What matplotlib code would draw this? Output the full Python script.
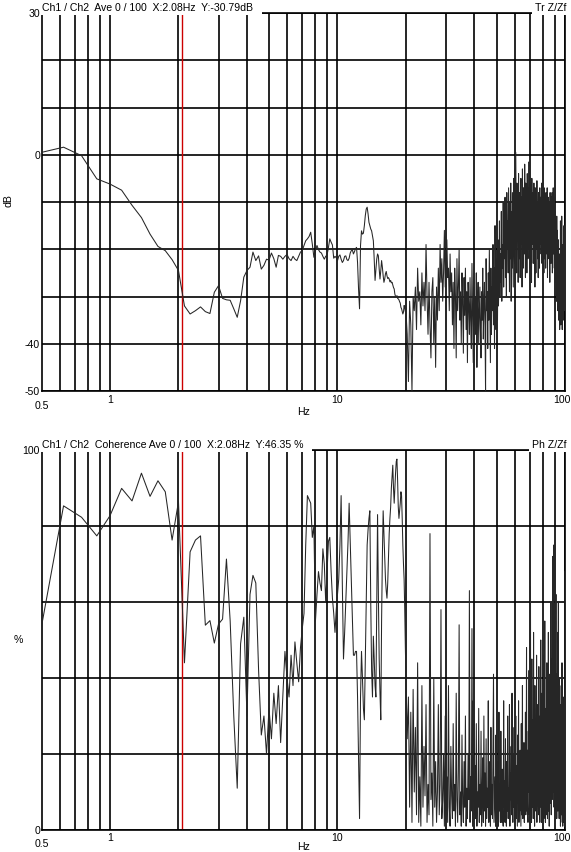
import numpy as np
import matplotlib.pyplot as plt
from matplotlib import transforms
from matplotlib.ticker import FixedLocator, NullFormatter

plt.rcParams['font.family'] = ['Liberation Sans', 'DejaVu Sans']

# Tr Z/Zf magnitude [dB], 0.5 - 20 Hz, step 0.125 Hz
mag_lo = [0.5, 1.6, -0.2, -5.1, -6.2, -7.5, -10.7, -13.3,
          -16.8, -19.4, -20.3, -22.2, -24.5, -32.0, -33.7, -33.0,
          -32.2, -33.2, -33.6, -29.1, -27.7, -30.4, -30.7, -30.8,
          -32.6, -34.4, -30.9, -25.9, -24.5, -23.8, -20.6, -22.4,
          -21.4, -24.2, -23.4, -22.1, -22.3, -20.8, -22.0, -23.8,
          -21.3, -21.5, -22.1, -21.5, -21.1, -22.0, -22.4, -21.5,
          -22.1, -22.4, -21.5, -20.6, -20.3, -19.2, -18.2, -17.8,
          -17.3, -16.4, -18.9, -21.7, -20.3, -19.2, -20.1, -20.6,
          -20.8, -21.5, -22.1, -21.5, -21.2, -19.6, -17.8, -18.5,
          -19.1, -21.9, -21.5, -21.8, -22.4, -21.5, -21.2, -22.1,
          -22.8, -22.4, -21.5, -21.4, -22.2, -22.4, -21.9, -20.8,
          -20.3, -20.1, -21.0, -20.5, -19.9, -19.6, -22.8, -28.4,
          -32.6, -19.2, -16.1, -16.8, -16.6, -15.0, -12.9, -11.5,
          -11.1, -12.5, -14.3, -15.0, -15.7, -16.1, -17.1, -18.2,
          -22.1, -26.6, -24.2, -22.1, -21.0, -21.4, -24.2, -26.3,
          -24.5, -22.4, -23.8, -25.6, -27.0, -26.3, -25.2, -24.7,
          -25.6, -26.2, -26.0, -26.3, -26.9, -26.6, -27.1, -27.0,
          -27.6, -28.1, -28.4, -29.5, -30.0, -30.2, -29.8, -30.4,
          -30.5, -30.7, -31.1, -31.4, -32.3, -32.6, -33.2, -33.7,
          -33.3, -31.9, -32.3, -33.2, -33.3]

# 20.25 - 100 Hz, step 0.25 Hz
mag_hi = [-38, -48, -31, -36, -50, -30, -33, -28,
          -37, -24, -31, -29, -36, -25, -32, -27,
          -33, -19, -30, -38, -27, -36, -43, -29,
          -26, -40, -30, -45, -28, -35, -24, -33,
          -19, -27, -22, -31, -25, -16, -28, -22,
          -18, -26, -24, -33, -21, -29, -25, -36,
          -27, -41, -24, -30, -43, -22, -33, -28,
          -20, -35, -29, -40, -25, -31, -42, -26,
          -34, -24, -37, -29, -44, -27, -32, -38,
          -26, -35, -41, -23, -33, -44, -28, -36,
          -30, -38, -25, -45, -32, -27, -40, -34,
          -28, -37, -43, -29, -35, -24, -39, -31,
          -27, -36, -50, -22, -33, -29, -41, -25,
          -35, -20, -31, -44, -24, -38, -28, -33,
          -19, -36, -24, -41, -15, -30, -37, -22,
          -28, -35, -18, -32, -25, -14, -30, -21,
          -27, -12, -31, -19, -24, -10, -28, -16,
          -22, -9, -26, -13, -30, -8, -20, -14,
          -25, -7, -18, -29, -10, -22, -6, -31,
          -12, -24, -8, -19, -28, -5, -16, -23,
          -3, -20, 0.5, -14, -25, -6, -18, -10,
          -27, -4, -15, -22, -8, -26, -11, -5,
          -19, -9, -28, -3, -16, -24, -7, -13,
          -21, -2, -12, -26, -6, -18, -10, -25,
          -4, -14, -22, -7, -17, -1.5, -20, -11,
          -24, -6, -15, -9, -27, -5, -19, -12,
          -8, -23, -13, -6, -21, -10, -28, -7,
          -16, -25, -9, -20, -5.5, -14, -22, -10,
          -26, -8, -17, -12, -24, -7, -19, -13,
          -9, -21, -15, -6, -23, -11, -18, -8,
          -20, -10, -25, -7, -16, -22, -9, -14,
          -24, -8, -18, -12, -21, -7, -26, -11,
          -15, -9, -22, -10, -19, -13, -27, -8,
          -17, -11, -23, -9, -20, -14, -8, -25,
          -10, -18, -7, -21, -12, -16, -24, -9,
          -19, -12, -27, -14, -22, -17, -31, -13,
          -25, -16, -33, -20, -28, -18, -35, -22,
          -30, -21, -37, -24, -32, -14, -36, -27,
          -22, -34, -13, -29, -37, -19, -33, -26,
          -35, -21, -30, -15, -28, -33, -18, -24]

# Coherence [%], 0.5 - 20 Hz, step 0.125 Hz
coh_lo = [53.6, 85.3, 82.3, 77.4, 82.7, 89.9, 86.6, 93.9,
          87.8, 91.9, 89.0, 76.3, 86.4, 44.0, 73.2, 76.3,
          77.4, 53.9, 55.1, 49.2, 54.2, 55.5, 71.3, 55.0,
          30.0, 11.0, 49.0, 56.0, 30.0, 62.0, 67.0, 65.0,
          42.0, 25.0, 30.0, 20.0, 32.0, 24.0, 36.0, 28.0,
          38.0, 23.0, 35.0, 47.0, 40.0, 35.0, 46.0, 38.0,
          49.5, 44.0, 39.0, 48.0, 53.0, 57.0, 75.0, 88.0,
          87.0, 86.0, 77.0, 80.0, 55.0, 62.0, 68.0, 65.0,
          63.0, 74.0, 70.0, 60.0, 68.0, 76.0, 77.0, 68.0,
          61.0, 57.0, 52.0, 58.0, 62.0, 66.0, 75.0, 88.0,
          65.0, 45.0, 52.0, 60.0, 68.0, 76.0, 86.0, 76.0,
          66.0, 56.0, 46.0, 46.0, 47.0, 47.0, 35.0, 18.0,
          3.0, 35.0, 47.0, 40.0, 32.0, 29.0, 45.0, 62.0,
          75.0, 79.0, 82.0, 84.0, 60.0, 42.0, 35.0, 51.0,
          45.0, 38.0, 35.0, 60.0, 83.0, 62.0, 45.0, 36.0,
          29.0, 55.0, 72.0, 84.0, 78.0, 72.0, 66.0, 63.0,
          61.0, 65.0, 72.0, 78.0, 82.0, 85.0, 90.0, 93.0,
          96.0, 90.0, 86.0, 90.0, 94.0, 97.0, 97.6, 92.0,
          85.0, 82.0, 84.0, 86.0, 89.0, 88.0, 82.0, 75.0,
          70.0, 66.0, 58.0, 48.0, 40.0]

# 20.25 - 100 Hz, step 0.25 Hz
coh_hi = [24, 35, 6, 31, 2, 37, 10, 27,
          4, 44, 2, 14, 1, 38, 6, 22,
          9, 33, 2, 12, 4, 78, 8, 15,
          1, 40, 6, 18, 2, 10, 33, 4,
          12, 58, 3, 8, 20, 1, 30, 5,
          14, 2, 38, 6, 1, 22, 9, 3,
          28, 5, 12, 1, 36, 8, 2, 16,
          54, 4, 10, 1, 25, 7, 2, 18,
          6, 30, 1, 11, 3, 20, 8, 63,
          2, 14, 5, 53, 1, 34, 9, 4,
          17, 3, 28, 1, 10, 6, 32, 2,
          12, 4, 26, 1, 8, 19, 2, 30,
          5, 15, 1, 24, 3, 11, 6, 34,
          2, 9, 18, 1, 27, 4, 12, 3,
          22, 41, 2, 8, 14, 1, 25, 6,
          3, 18, 7, 1, 31, 5, 12, 2,
          26, 8, 2, 16, 4, 1, 34, 6,
          13, 2, 24, 7, 1, 18, 5, 30,
          3, 11, 5, 33, 1, 15, 8, 22,
          4, 36, 9, 2, 20, 6, 27, 1,
          14, 5, 30, 3, 17, 8, 1, 25,
          7, 34, 2, 15, 5, 21, 10, 1,
          28, 4, 12, 38, 3, 18, 6, 23,
          2, 16, 8, 31, 4, 13, 48, 5,
          21, 7, 2, 26, 10, 42, 4, 17,
          9, 64, 5, 22, 2, 45, 12, 6,
          29, 3, 52, 8, 18, 1, 38, 11,
          5, 24, 9, 46, 2, 15, 7, 33,
          13, 4, 43, 8, 20, 2, 30, 10,
          50, 6, 17, 2, 36, 9, 22, 4,
          15, 46, 3, 26, 8, 55, 12, 2,
          32, 9, 20, 4, 44, 13, 3, 25,
          11, 52, 5, 22, 1, 41, 16, 7,
          28, 11, 60, 4, 19, 45, 8, 23,
          72, 10, 32, 14, 75, 6, 48, 18,
          5, 56, 13, 27, 62, 8, 41, 3,
          23, 11, 52, 5, 30, 60, 9, 21,
          3, 40, 14, 7, 33, 1, 19, 6,
          38, 4, 12, 44, 2, 30, 1, 16,
          8, 2, 35, 5, 28, 1, 10, 68]

cursor_hz = 2.08
major_hz = [1, 10, 100]
minor_hz = [0.6, 0.7, 0.8, 0.9, 2, 3, 4, 5, 6, 7, 8, 9,
            20, 30, 40, 50, 60, 70, 80, 90]

freq_lo = 0.5 + 0.125 * np.arange(len(mag_lo))
freq_hi = 20.25 + 0.25 * np.arange(len(mag_hi))
freq = np.concatenate([freq_lo, freq_hi])
mag = np.concatenate([mag_lo, mag_hi])
coh = np.concatenate([coh_lo, coh_hi])

W, H = 571, 853
fs = 7.6
fig = plt.figure(figsize=(W / 100, H / 100), dpi=100)


def px_axes(l, t, r, b):
    return fig.add_axes([l / W, 1 - b / H, (r - l) / W, (b - t) / H])


def setup(ax, ymin, ymax, ystep, ylabels, xl_off, x05_off, hz_off, title, tag):
    ax.set_xscale('log')
    ax.set_xlim(0.5, 100)
    ax.set_ylim(ymin, ymax)
    ax.xaxis.set_major_locator(FixedLocator(major_hz))
    ax.xaxis.set_minor_locator(FixedLocator(minor_hz))
    ax.xaxis.set_minor_formatter(NullFormatter())
    ax.set_yticks(np.arange(ymin, ymax + 1, ystep))
    ax.grid(True, which='both', color='black', lw=1.2)
    ax.set_axisbelow(True)
    ax.tick_params(which='both', length=0, labelbottom=False, labelleft=False)
    for s in ax.spines.values():
        s.set_linewidth(1.2)

    tx = transforms.blended_transform_factory(ax.transData, ax.transAxes)
    ty = transforms.blended_transform_factory(ax.transAxes, ax.transData)
    for v in ylabels:
        ax.text(0, v, str(v), fontsize=fs, ha='right', va='center', zorder=10,
                transform=transforms.offset_copy(ty, fig, x=-1.5, y=0, units='dots'))
    for v, dx in [(1, 0), (10, 0), (100, -3.5)]:
        ax.text(v, 0, str(v), fontsize=fs, ha='center', va='center',
                transform=transforms.offset_copy(tx, fig, x=dx, y=-xl_off, units='dots'))
    ax.text(0.5, 0, '0.5', fontsize=fs, ha='center', va='center',
            transform=transforms.offset_copy(tx, fig, x=0.5, y=-x05_off, units='dots'))
    ax.text(0.5, 0, 'Hz', fontsize=fs, ha='center', va='center',
            transform=transforms.offset_copy(ax.transAxes, fig, x=0, y=-hz_off, units='dots'))

    box = dict(facecolor='white', edgecolor='none', pad=2)
    ax.text(0, 1, title + '  ', fontsize=fs, ha='left', va='baseline', bbox=box, zorder=5,
            transform=transforms.offset_copy(ax.transAxes, fig, x=1, y=3, units='dots'))
    ax.text(1, 1, tag, fontsize=fs, ha='right', va='baseline', bbox=box, zorder=5,
            transform=transforms.offset_copy(ax.transAxes, fig, x=1, y=3, units='dots'))


ax1 = px_axes(41.5, 14, 565, 392)
setup(ax1, -50, 30, 10, [30, 0, -40, -50], 8, 14.5, 20.5,
      'Ch1 / Ch2  Ave 0 / 100  X:2.08Hz  Y:-30.79dB', 'Tr Z/Zf')
ax1.plot(freq, mag, color='#262626', lw=0.75, zorder=3)
ax1.axvline(cursor_hz, color='#cc0000', lw=1.0, zorder=2)

ax2 = px_axes(41.5, 451, 565, 831)
setup(ax2, 0, 100, 20, [100, 0], 7, 13.5, 16,
      'Ch1 / Ch2  Coherence Ave 0 / 100  X:2.08Hz  Y:46.35 %', 'Ph Z/Zf')
ax2.plot(freq, coh, color='#262626', lw=0.75, zorder=3)
ax2.axvline(cursor_hz, color='#cc0000', lw=1.0, zorder=2)

fig.text(8 / W, 1 - 201 / H, 'dB', fontsize=fs, rotation=90, ha='center', va='center')
fig.text(18 / W, 1 - 640 / H, '%', fontsize=fs, ha='center', va='center')

fig.savefig('out.png', dpi=100)
